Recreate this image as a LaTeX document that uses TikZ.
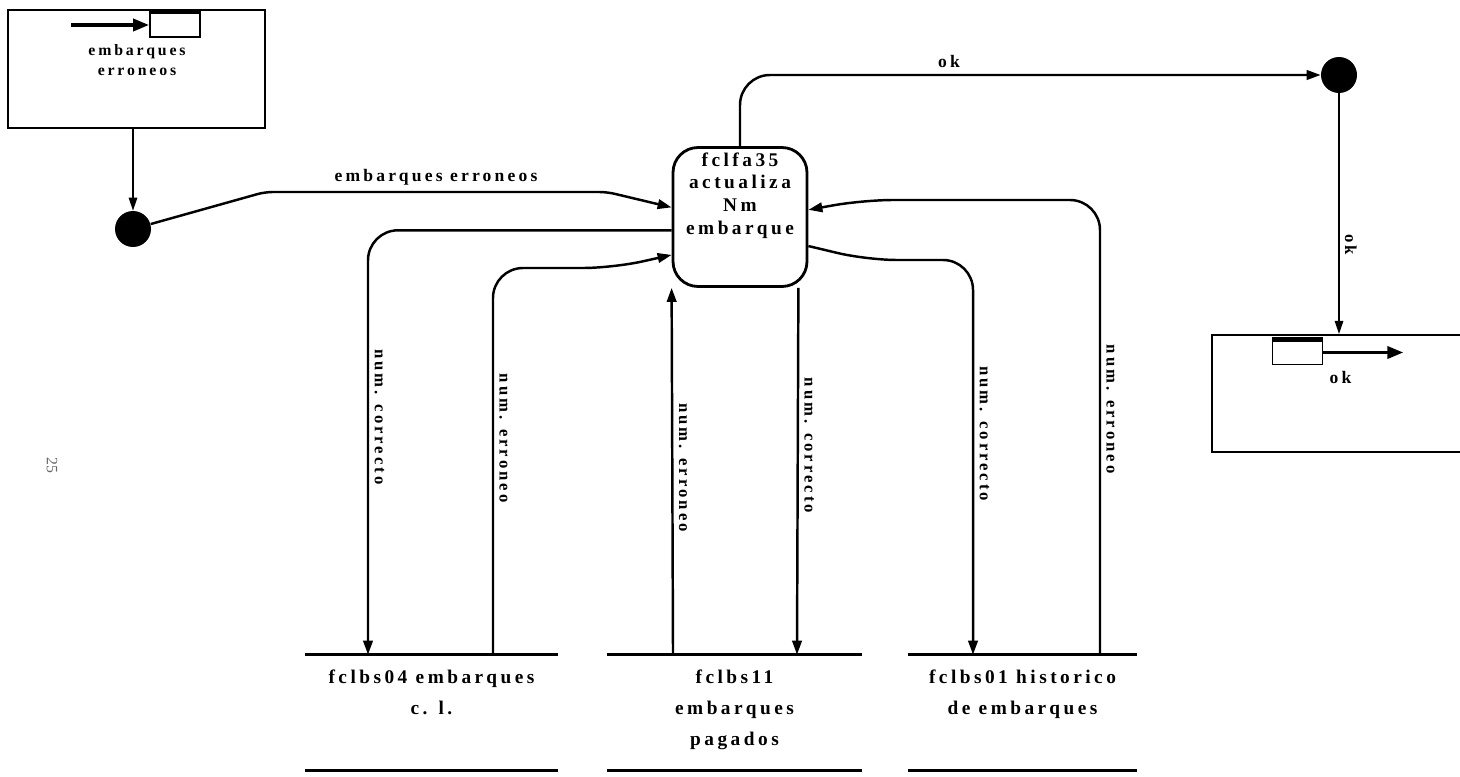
\documentclass[tikz,border=0pt]{standalone}
\usepackage{fontspec}
\setmainfont{Liberation Serif}
\newfontfamily\spacedfont[LetterSpace=18]{Liberation Serif}
\usetikzlibrary{arrows.meta, positioning}

\begin{document}
\begin{tikzpicture}[
    x=0.02cm, y=-0.02cm,
    flow/.style={line width=1.4pt, rounded corners=0.6cm, -{Triangle[length=2.8mm, width=1.9mm]}},
    link/.style={line width=0.8pt, -{Triangle[length=2.6mm, width=1.7mm]}},
    bigarrow/.style={line width=2pt, -{Triangle[length=3.2mm, width=2.4mm]}},
    process/.style={rectangle, rounded corners=0.5cm, draw, line width=1.6pt, minimum width=2.68cm, minimum height=2.78cm},
    frame/.style={rectangle, draw, line width=1.2pt},
    minibox/.style={rectangle, draw, line width=1pt, minimum width=1cm, minimum height=0.48cm},
    dot/.style={circle, fill=black, minimum size=0.72cm, inner sep=0pt},
    store/.style={rectangle, minimum height=2.3cm, inner sep=0pt},
    storeline/.style={line width=1.8pt},
    txt/.style={font=\spacedfont\bfseries\fontsize{11}{12.9}\selectfont, align=center, inner sep=2pt},
    stxt/.style={font=\spacedfont\bfseries\fontsize{11}{17.5}\selectfont, align=center, inner sep=0pt},
    lbl/.style={font=\spacedfont\bfseries\fontsize{10}{12}\selectfont},
    vlabel/.style={font=\spacedfont\bfseries\fontsize{9.5}{11}\selectfont, rotate=-90, anchor=south, inner sep=3pt},
]
\useasboundingbox (0,0) rectangle (1460,777);

% External entity: embarques erroneos
\node[frame, minimum width=5.14cm, minimum height=2.36cm] (errbox) at (136.5,69) {};
\node[minibox] (errstore) at (175,25) {};
\draw[line width=2.5pt] (errstore.north west) -- (errstore.north east);
\draw[bigarrow] ([xshift=-1.56cm]errstore.west) -- (errstore.west);
\node[txt, font=\spacedfont\bfseries\fontsize{9}{11}\selectfont] (errtxt) at (137,60) {embarques\\erroneos};
\node[dot] (dotL) at (133,229) {};

% Process
\node[process] (proc) at (740,217) {};
\node[txt, anchor=north, yshift=-0.05cm] (proctxt) at (proc.north) {fclfa35\\actualiza\\Nm\\embarque};

% External entity: ok
\node[dot] (dotR) at (1339,75) {};
\node[frame, minimum width=5.26cm, minimum height=2.34cm] (okbox) at (1343.5,393.5) {};
\node[minibox] (okstore) at (1297.5,352.5) {};
\draw[line width=2.5pt] (okstore.north west) -- (okstore.north east);
\draw[bigarrow] (okstore.east) -- ++(80,0);
\node[lbl, anchor=north west] (oktxt) at (okstore.south east) {ok};

% Stores
\node[store, minimum width=5.06cm] (fclbs04) at (431.5,712.5) {};
\node[store, minimum width=5.1cm] (fclbs11) at (734.5,712.5) {};
\node[store, minimum width=4.58cm] (fclbs01) at (1022.5,712.5) {};
\node[stxt, below=0.3cm of fclbs04.north] (fclbs04t) {fclbs04 embarques\\c. l.};
\node[stxt, below=0.3cm of fclbs11.north] (fclbs11t) {fclbs11\\embarques\\pagados};
\node[stxt, below=0.3cm of fclbs01.north] (fclbs01t) {fclbs01 historico\\de embarques};
\foreach \s in {fclbs04, fclbs11, fclbs01}
  \draw[storeline] (\s.north west) -- (\s.north east) (\s.south west) -- (\s.south east);

% Page number
\node[font=\fontsize{9}{9}\selectfont, text=black!60, rotate=-90] (pagenum) at (52,465) {25};

% Flows
\draw[link] (errbox.south -| dotL) -- (dotL);
\draw[flow, rounded corners=0.15cm] (dotL) -- (265,192) -- node[above, lbl] {embarques erroneos} (607,192) -- (proc.172);
\draw[flow] (proc.north) |- node[pos=0.68, above, lbl] {ok} (dotR);
\draw[link] (dotR) -- node[pos=0.63, vlabel] {ok} (okbox.north -| dotR);

\draw[flow] (proc.191) -| node[pos=0.72, vlabel] {num. correcto} ([xshift=-1.27cm]fclbs04.north);
\draw[flow] ([xshift=1.23cm]fclbs04.north) |- node[pos=0.28, vlabel] {num. erroneo} (613,268) -- (proc.209);
\draw[flow] ([xshift=-1.23cm]fclbs11.north) -- node[pos=0.51, vlabel] {num. erroneo} (proc.south west);
\draw[flow] ([xshift=-0.2cm]proc.south east) -- node[pos=0.43, vlabel] {num. correcto} ([xshift=1.25cm]fclbs11.north);
\draw[flow] (proc.337) -- (867,260) -| node[pos=0.72, vlabel] {num. correcto} ([xshift=-0.99cm]fclbs01.north);
\draw[flow] ([xshift=1.55cm]fclbs01.north) |- node[pos=0.27, vlabel] {num. erroneo} (863,200) -- (proc.6);

\end{tikzpicture}
\end{document}
